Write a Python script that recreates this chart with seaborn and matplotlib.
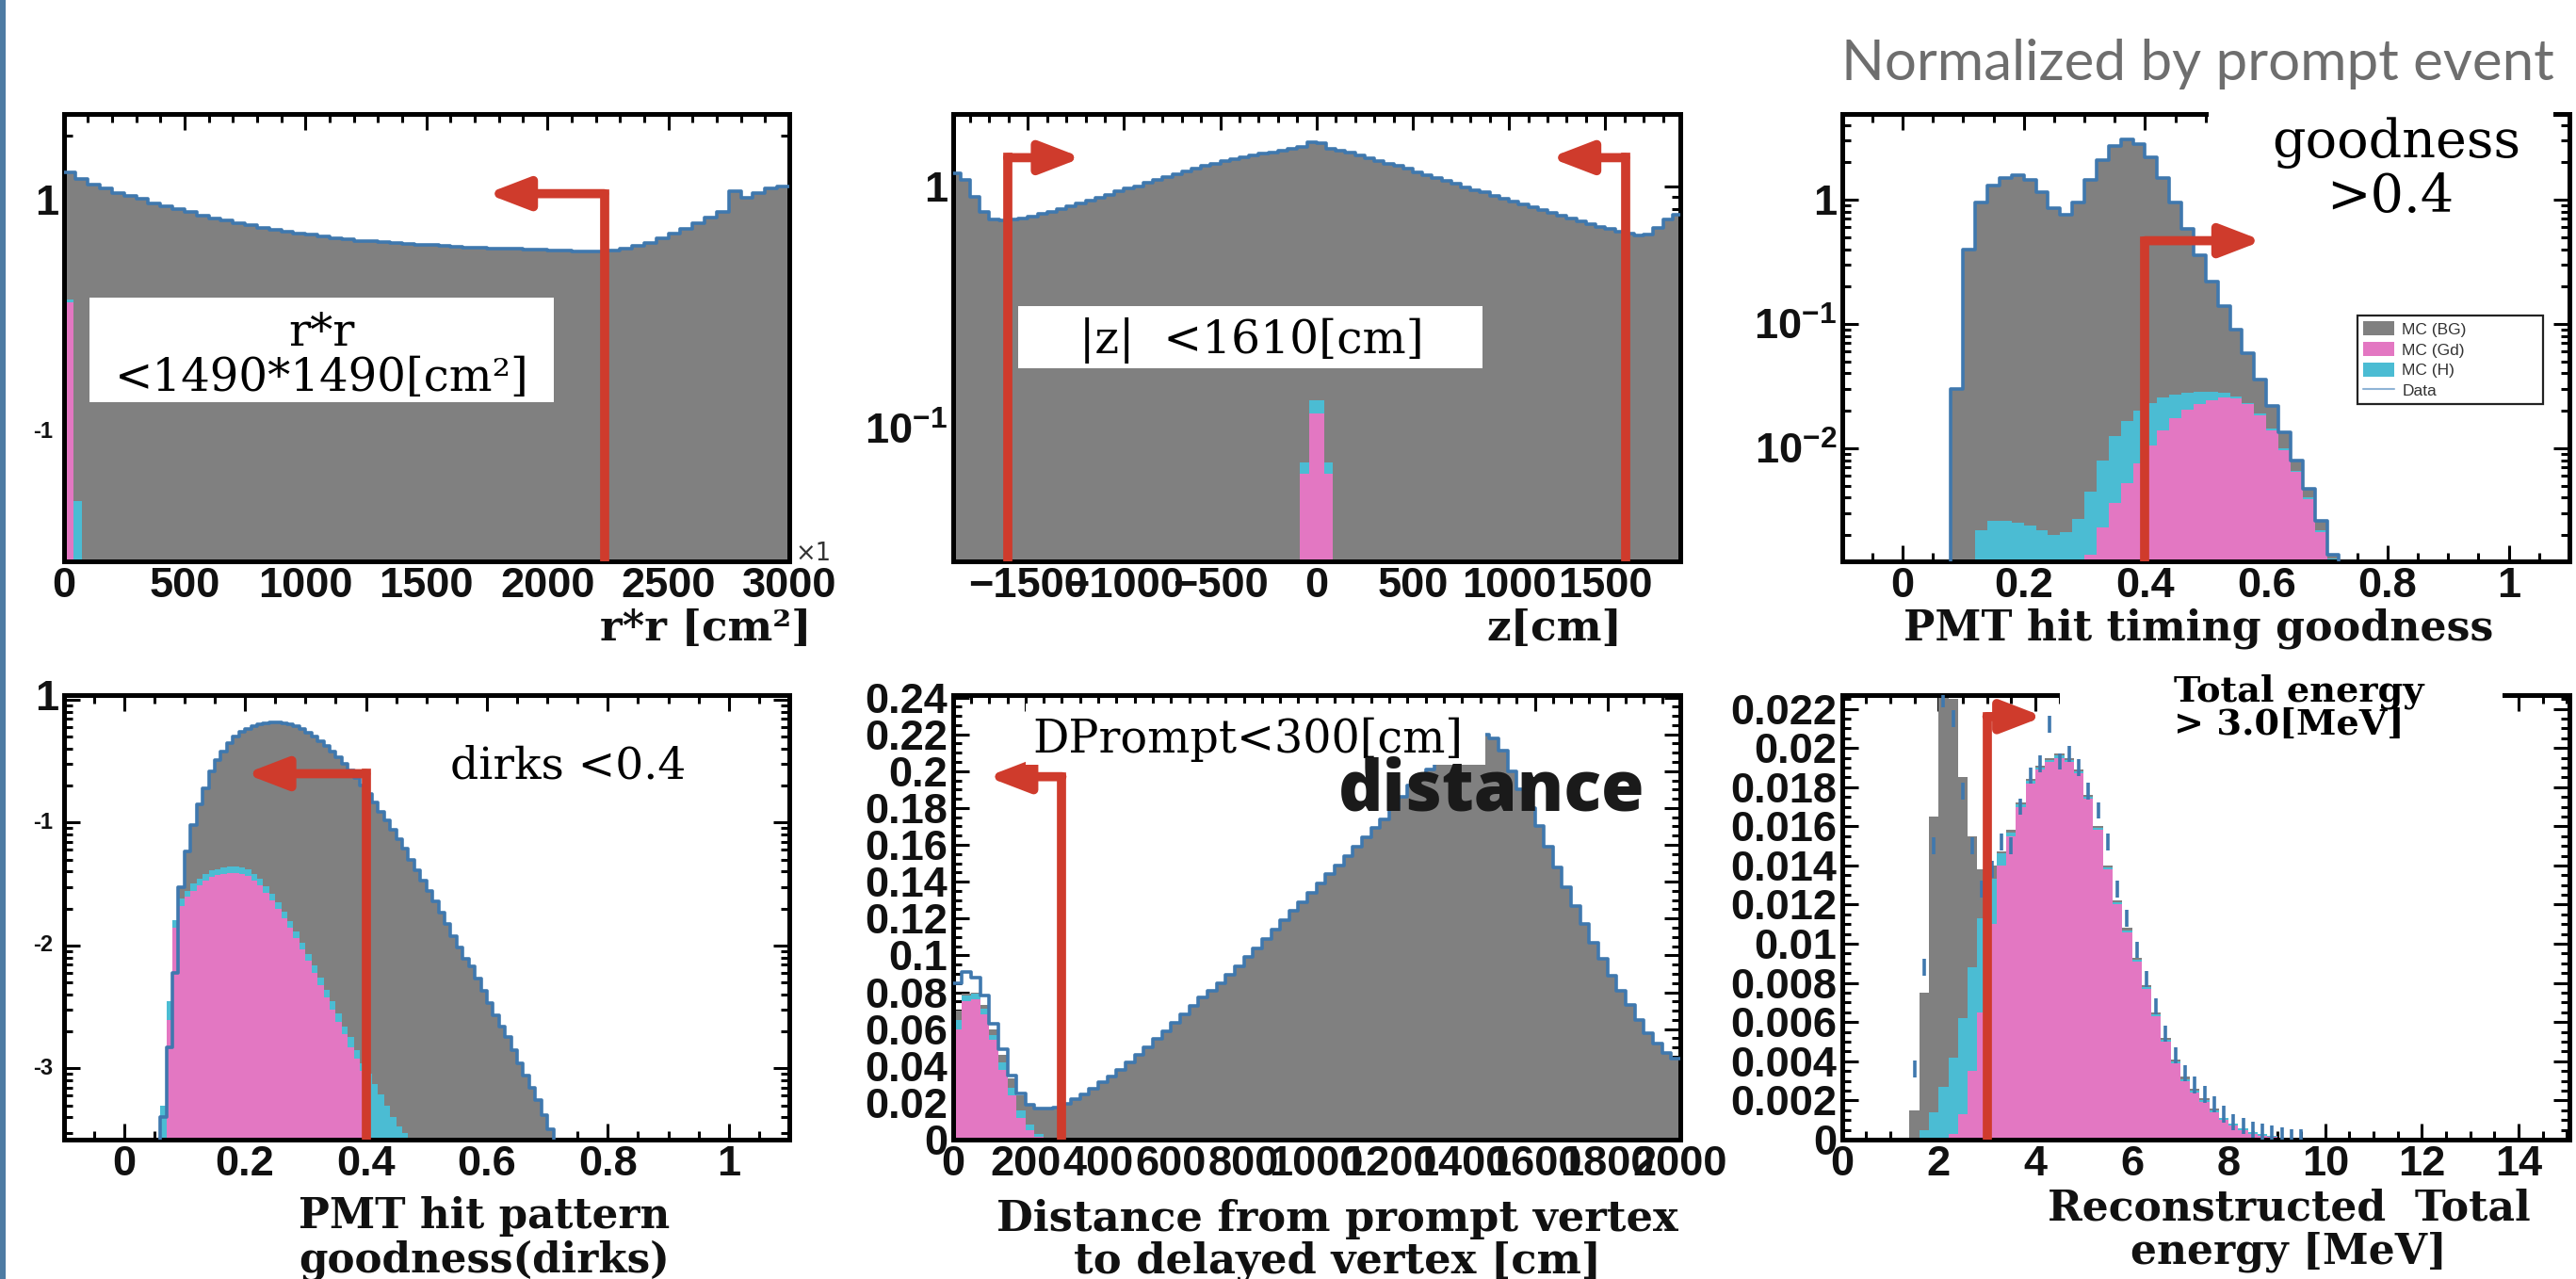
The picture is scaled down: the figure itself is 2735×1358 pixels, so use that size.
import numpy as np
import matplotlib
matplotlib.use("Agg")
import matplotlib.pyplot as plt
import seaborn as sns
from matplotlib.patches import Rectangle, Patch
from matplotlib.lines import Line2D
from matplotlib.ticker import MultipleLocator, LogLocator, NullFormatter, FuncFormatter
from matplotlib.transforms import blended_transform_factory

# ------------------------------------------------------------------ data
# Panel 1 : r*r  (x10^3 cm^2), bins of 50
rr_edges = list(range(0, 3001, 50))
rr_total = [1.38, 1.29, 1.22, 1.17, 1.12, 1.08, 1.05, 1.01, 0.98, 0.95,
            0.92, 0.89, 0.865, 0.845, 0.825, 0.805, 0.785, 0.77, 0.755, 0.745,
            0.735, 0.72, 0.71, 0.70, 0.69, 0.685, 0.68, 0.675, 0.67, 0.665,
            0.66, 0.655, 0.65, 0.645, 0.642, 0.64, 0.637, 0.635, 0.632, 0.63,
            0.627, 0.625, 0.622, 0.62, 0.622, 0.628, 0.64, 0.655, 0.675, 0.705,
            0.74, 0.78, 0.825, 0.87, 0.92, 1.14, 1.06, 1.12, 1.17, 1.19]
rr_sig_edges = [0, 40, 75]
rr_gdh = [0.38, 0.05]
rr_gd = [0.37, 0.0]

# Panel 2 : z, bins of 50
z_edges = list(range(-1900, 1901, 50))
z_total = [1.13, 1.06, 0.90, 0.78, 0.73, 0.72, 0.725, 0.735, 0.75, 0.765,
           0.785, 0.805, 0.825, 0.85, 0.87, 0.895, 0.92, 0.95, 0.975, 1.00,
           1.03, 1.06, 1.09, 1.12, 1.15, 1.18, 1.21, 1.24, 1.27, 1.29,
           1.32, 1.34, 1.36, 1.38, 1.40, 1.42, 1.45, 1.52,
           1.50, 1.43, 1.40, 1.37, 1.34, 1.30, 1.27, 1.24, 1.21, 1.18,
           1.14, 1.11, 1.08, 1.05, 1.02, 0.99, 0.965, 0.94, 0.91, 0.885,
           0.86, 0.84, 0.815, 0.795, 0.775, 0.755, 0.735, 0.715, 0.695, 0.68,
           0.665, 0.65, 0.635, 0.625, 0.63, 0.67, 0.73, 0.76]
z_sig_edges = [-85, -40, 0, 40, 85]
z_gdh = [0.072, 0.13, 0.13, 0.072]
z_gd = [0.065, 0.115, 0.115, 0.065]

# Panel 3 : PMT hit timing goodness
tg_edges = np.round(np.linspace(0.06, 0.74, 35), 2)
tg_total = [0, 0.03, 0.40, 0.95, 1.30, 1.50, 1.58, 1.45, 1.15, 0.85,
            0.76, 0.95, 1.45, 2.10, 2.70, 3.05, 2.80, 2.20, 1.50, 0.95,
            0.58, 0.36, 0.22, 0.14, 0.09, 0.058, 0.036, 0.022, 0.0135, 0.008,
            0.0047, 0.0026, 0.0014, 0]
tg_gdh = [0, 0, 0, 0.0022, 0.0026, 0.0026, 0.0025, 0.0024, 0.0022, 0.0020,
          0.0021, 0.0027, 0.0045, 0.0080, 0.0125, 0.0165, 0.020, 0.023, 0.0255, 0.027,
          0.028, 0.0285, 0.0285, 0.028, 0.026, 0.023, 0.019, 0.0145, 0.010, 0.0066,
          0.0040, 0.0022, 0.0013, 0]
tg_gd = [0, 0, 0, 0, 0, 0, 0, 0, 0, 0,
         0, 0, 0.0014, 0.0023, 0.0036, 0.0052, 0.0075, 0.0105, 0.014, 0.0175,
         0.0205, 0.0228, 0.0245, 0.0255, 0.025, 0.0225, 0.0185, 0.014, 0.0097, 0.0064,
         0.0039, 0.0021, 0.0012, 0]

# Panel 4 : PMT hit pattern goodness (dirks), bins of 0.01
dk_edges = np.round(np.linspace(0.04, 0.74, 71), 2)
dk_total = [0, 0, 0.0004, 0.0015, 0.006, 0.030, 0.058, 0.095, 0.14, 0.19,
            0.26, 0.32, 0.38, 0.44, 0.50, 0.545, 0.58, 0.61, 0.63, 0.645,
            0.655, 0.655, 0.645, 0.63, 0.605, 0.575, 0.54, 0.50, 0.46, 0.42,
            0.38, 0.34, 0.30, 0.265, 0.23, 0.20, 0.17, 0.145, 0.123, 0.104,
            0.087, 0.073, 0.061, 0.050, 0.041, 0.034, 0.028, 0.023, 0.0185, 0.015,
            0.012, 0.0097, 0.0078, 0.0068, 0.0054, 0.0043, 0.0034, 0.0027, 0.0022, 0.0018,
            0.0014, 0.0011, 0.00088, 0.0007, 0.00055, 0.00042, 0.00032, 0.00025, 0, 0]
dk_gdh = [0, 0, 0.0005, 0.0035, 0.016, 0.024, 0.028, 0.032, 0.035, 0.038,
          0.041, 0.042, 0.043, 0.044, 0.044, 0.043, 0.0415, 0.038, 0.035, 0.0305,
          0.0265, 0.0226, 0.019, 0.0159, 0.013, 0.0106, 0.0086, 0.0069, 0.0055, 0.0044,
          0.0035, 0.0028, 0.0022, 0.0018, 0.0014, 0.0011, 0.0009, 0.00075, 0.00062, 0.0005,
          0.0004, 0.00034, 0.0003] + [0] * 27
dk_gd = [0, 0, 0, 0.0025, 0.014, 0.021, 0.025, 0.028, 0.031, 0.034,
         0.036, 0.0375, 0.0385, 0.039, 0.039, 0.0385, 0.037, 0.034, 0.031, 0.027,
         0.0235, 0.020, 0.0168, 0.014, 0.0115, 0.0093, 0.0075, 0.006, 0.0048, 0.0038,
         0.003, 0.0024, 0.0019, 0.0015, 0.0012, 0.00095] + [0] * 34

# Panel 5 : distance prompt-delayed, bins of 25
ds_edges = list(range(0, 2001, 25))
ds_total = [0.070, 0.079, 0.080, 0.073, 0.060, 0.046, 0.033, 0.024, 0.019, 0.017,
            0.0168, 0.0175, 0.0195, 0.0218, 0.0245, 0.0275, 0.031, 0.034, 0.038, 0.042,
            0.046, 0.050, 0.0545, 0.059, 0.0635, 0.068, 0.0725, 0.077, 0.081, 0.085,
            0.0895, 0.094, 0.099, 0.104, 0.109, 0.114, 0.119, 0.124, 0.129, 0.134,
            0.139, 0.144, 0.149, 0.154, 0.159, 0.164, 0.169, 0.174, 0.180, 0.186,
            0.192, 0.197, 0.201, 0.205, 0.208, 0.211, 0.214, 0.217, 0.220, 0.218,
            0.211, 0.200, 0.190, 0.180, 0.170, 0.159, 0.148, 0.137, 0.127, 0.117,
            0.107, 0.098, 0.089, 0.081, 0.073, 0.065, 0.058, 0.052, 0.047, 0.044]
ds_data = [0.085, 0.091, 0.088, 0.078, 0.063, 0.049, 0.035, 0.025, 0.019, 0.017,
           0.0168, 0.0175, 0.0195, 0.0218, 0.0245, 0.0275, 0.031, 0.034, 0.038, 0.042,
           0.046, 0.050, 0.0545, 0.059, 0.0635, 0.068, 0.0725, 0.077, 0.081, 0.085,
           0.0895, 0.094, 0.099, 0.104, 0.109, 0.114, 0.119, 0.124, 0.129, 0.134,
           0.139, 0.144, 0.149, 0.154, 0.159, 0.164, 0.169, 0.174, 0.180, 0.186,
           0.192, 0.197, 0.201, 0.205, 0.208, 0.211, 0.214, 0.217, 0.220, 0.218,
           0.211, 0.200, 0.190, 0.180, 0.170, 0.159, 0.148, 0.137, 0.127, 0.117,
           0.107, 0.098, 0.089, 0.081, 0.073, 0.065, 0.058, 0.052, 0.047, 0.044]
ds_gdh = [0.065, 0.078, 0.079, 0.071, 0.057, 0.042, 0.028, 0.016, 0.008, 0.003, 0.001] + [0] * 69
ds_gd = [0.060, 0.075, 0.076, 0.068, 0.054, 0.038, 0.024, 0.012, 0.005, 0.0015] + [0] * 70

# Panel 6 : reconstructed total energy
en_edges = np.round(np.linspace(1.4, 9.6, 42), 1)
en_total = [0.0015, 0.0075, 0.0165, 0.0232, 0.0225, 0.0185, 0.0155, 0.0138, 0.0140, 0.0147,
            0.0158, 0.0172, 0.0184, 0.0191, 0.0195, 0.0197, 0.0195, 0.0189, 0.0176, 0.0160,
            0.0140, 0.0122, 0.0108, 0.0093, 0.0079, 0.0065, 0.0052, 0.0041, 0.0032, 0.0026,
            0.0021, 0.0016, 0.0011, 0.0008, 0.0006, 0.0004, 0.0003, 0.0002, 0.0001, 0.00005,
            0.00003]
en_gdh = [0, 0.0005, 0.0014, 0.0027, 0.0042, 0.0062, 0.0088, 0.0113, 0.0133, 0.0146,
          0.0157, 0.0171, 0.0183, 0.0190, 0.0194, 0.0196, 0.0194, 0.0188, 0.0175, 0.0159,
          0.0139, 0.0121, 0.0107, 0.0092, 0.0078, 0.0064, 0.0051, 0.0040, 0.0031, 0.0025,
          0.0020, 0.0015, 0.0011, 0.0008, 0.0006, 0.0004, 0.0003, 0.0002, 0.0001, 0.00005,
          0.00003]
en_gd = [0, 0, 0, 0, 0.0003, 0.0013, 0.0035, 0.0065, 0.0110, 0.0140,
         0.0155, 0.0170, 0.0182, 0.0189, 0.0193, 0.0195, 0.0193, 0.0187, 0.0174, 0.0158,
         0.0138, 0.0120, 0.0106, 0.0091, 0.0077, 0.0063, 0.0050, 0.0039, 0.0030, 0.0024,
         0.0019, 0.0014, 0.0010, 0.0007, 0.0005, 0.0003, 0.0002, 0.00015, 0.0001, 0.00004,
         0.00002]
en_data = [0.0036, 0.0088, 0.0150, 0.0225, 0.0215, 0.0178, 0.0150, 0.0128, 0.0138, 0.0152,
           0.0150, 0.0170, 0.0186, 0.0192, 0.0212, 0.0193, 0.0197, 0.0190, 0.0178, 0.0168,
           0.0152, 0.0128, 0.0113, 0.0097, 0.0082, 0.0068, 0.0054, 0.0043, 0.0034, 0.0028,
           0.0023, 0.0018, 0.0013, 0.0009, 0.0007, 0.0005, 0.0004, 0.0003, 0.0002, 0.0001,
           0.0001]

legend_labels = ["MC (BG)", "MC (Gd)", "MC (H)", "Data"]

# ------------------------------------------------------------------ style
sns.set_theme(style="white")
plt.rcParams.update({
    "font.family": ["Liberation Sans", "DejaVu Sans"],
    "font.weight": "bold",
    "mathtext.fontset": "custom",
    "mathtext.rm": "Liberation Sans",
    "mathtext.bf": "Liberation Sans:bold",
    "mathtext.it": "Liberation Sans:italic",
})

GREY = "#808080"
PINK = "#e377c2"
CYAN = "#4bbcd3"
BLUE = "#3f78ae"
RED = "#cf3b2c"
SERIF = ["DejaVu Serif"]
TICKSIZE = 32.5

W, H = 2735, 1358
fig = plt.figure(figsize=(W / 100, H / 100), dpi=100)
fig.patch.set_facecolor("white")
R = fig.canvas.get_renderer()

AX_PX = {
    "rr": (67.5, 838, 121, 596),
    "z": (1011.6, 1784, 121, 596),
    "tg": (1955.6, 2728, 121, 596),
    "dk": (67.5, 838, 738, 1210),
    "ds": (1011.6, 1784, 738, 1210),
    "en": (1955.6, 2728, 738, 1210),
}


def px_rect(l, r, t, b):
    return [l / W, 1 - b / H, (r - l) / W, (b - t) / H]


def mids(edges):
    e = np.asarray(edges, float)
    return (e[:-1] + e[1:]) / 2


def layer(ax, edges, vals, color, z):
    sns.histplot(x=mids(edges), weights=vals, bins=list(np.asarray(edges, float)),
                 element="step", fill=True, color=color, alpha=1.0, linewidth=0,
                 ax=ax, zorder=z)


def outline(ax, edges, vals, z=4):
    sns.histplot(x=mids(edges), weights=vals, bins=list(np.asarray(edges, float)),
                 element="step", fill=False, color=BLUE, linewidth=2.6, ax=ax, zorder=z)


def fmt_num(v, pos):
    return f"{v:g}".replace("-", "\u2212")


def fmt_log(v, pos):
    e = int(round(np.log10(v)))
    return "1" if e == 0 else r"$\mathbf{10^{%d}}$" % e


def style(ax, xlim, xmaj, xmin, ylim, ylog, ymaj=None, ymin=None, loglabels=True):
    ax.set_xlim(*xlim)
    if ylog:
        ax.set_yscale("log")
    ax.set_ylim(*ylim)
    ax.xaxis.set_major_locator(MultipleLocator(xmaj))
    ax.xaxis.set_minor_locator(MultipleLocator(xmin))
    ax.xaxis.set_major_formatter(FuncFormatter(fmt_num))
    if ylog:
        ax.yaxis.set_major_locator(LogLocator(base=10, numticks=20))
        ax.yaxis.set_minor_locator(LogLocator(base=10, subs=np.arange(2, 10), numticks=100))
        ax.yaxis.set_minor_formatter(NullFormatter())
        ax.yaxis.set_major_formatter(FuncFormatter(fmt_log) if loglabels else NullFormatter())
    else:
        ax.yaxis.set_major_locator(MultipleLocator(ymaj))
        ax.yaxis.set_minor_locator(MultipleLocator(ymin))
        ax.yaxis.set_major_formatter(FuncFormatter(fmt_num))
    ax.tick_params(which="both", direction="in", top=True, right=True, bottom=True,
                   left=True, color="black", width=2.2)
    ax.tick_params(which="major", length=12, pad=4, labelsize=TICKSIZE, labelcolor="#111111")
    ax.tick_params(which="minor", length=6.5)
    for s in ax.spines.values():
        s.set_visible(True)
        s.set_linewidth(3.6)
        s.set_color("black")
    ax.set_xlabel("")
    ax.set_ylabel("")
    ax.grid(False)
    ax.set_facecolor("white")


def cut_arrow(ax, x, ytop, xtip, ybot):
    ax.plot([x, x], [ybot, ytop], color=RED, lw=7, solid_capstyle="projecting", zorder=5)
    ax.annotate("", xy=(xtip, ytop), xytext=(x, ytop),
                arrowprops=dict(arrowstyle="-|>,head_length=1.3,head_width=0.5",
                                mutation_scale=20, lw=7, color=RED,
                                shrinkA=0, shrinkB=0),
                zorder=5)


def fit(t, width):
    bb = t.get_window_extent(renderer=R)
    t.set_fontsize(t.get_fontsize() * width / bb.width)
    return t


def spacing(t, sp_px):
    fp = t.get_fontproperties()
    _, h, d = R.get_text_width_height_descent("lp", fp, ismath=False)
    t.set_linespacing((sp_px - d) / (h - d))


def ftext(px, py, s, width, **kw):
    ha = kw.pop("ha", "center")
    va = kw.pop("va", "center")
    t = fig.text(px / W, 1 - py / H, s, ha=ha, va=va, **kw)
    fit(t, width)
    return t


def exp_labels(ax, entries):
    tr = blended_transform_factory(ax.transAxes, ax.transData)
    for v, s, size, xo in entries:
        ax.text(xo, v, s, transform=tr, ha="right", va="center", fontsize=size,
                fontweight="bold", color="#111111", clip_on=False)


axs = {k: fig.add_axes(px_rect(*v)) for k, v in AX_PX.items()}

# ---------------- Panel 1
ax = axs["rr"]
layer(ax, rr_edges, rr_total, GREY, 1)
layer(ax, rr_sig_edges, rr_gdh, CYAN, 1.1)
layer(ax, rr_sig_edges, rr_gd, PINK, 1.2)
outline(ax, rr_edges, rr_total)
style(ax, (0, 3000), 500, 100, (0.0272, 2.48), True, loglabels=False)
exp_labels(ax, [(1, "1", TICKSIZE, -0.007), (0.1, "-1", 17, -0.015)])
cut_arrow(ax, 2235, 1.11, 1749, 0.001)
ax.add_patch(Rectangle((0.036, 0.356), 0.64, 0.233, transform=ax.transAxes,
                       facecolor="white", edgecolor="none", zorder=6))
t2 = ax.text(0.356, 0.41, "<1490*1490[cm\u00b2]", transform=ax.transAxes, ha="center",
             va="center", family=SERIF, fontweight="normal", color="black", zorder=7)
fit(t2, 439)
ax.text(0.356, 0.51, "r*r", transform=ax.transAxes, ha="center", va="center",
        family=SERIF, fontweight="normal", color="black", zorder=7,
        fontsize=t2.get_fontsize())

# ---------------- Panel 2
ax = axs["z"]
layer(ax, z_edges, z_total, GREY, 1)
layer(ax, z_sig_edges, z_gdh, CYAN, 1.1)
layer(ax, z_sig_edges, z_gd, PINK, 1.2)
outline(ax, z_edges, z_total)
style(ax, (-1890, 1890), 500, 100, (0.0282, 1.985), True)
cut_arrow(ax, -1605, 1.31, -1218, 0.001)
cut_arrow(ax, 1605, 1.31, 1213, 0.001)
ax.add_patch(Rectangle((0.0895, 0.432), 0.639, 0.1385, transform=ax.transAxes,
                       facecolor="white", edgecolor="none", zorder=6))
t = ax.text(0.411, 0.493, "|z|  <1610[cm]", transform=ax.transAxes, ha="center",
            va="center", family=SERIF, fontweight="normal", color="black", zorder=7)
fit(t, 365)

# ---------------- Panel 3
ax = axs["tg"]
layer(ax, tg_edges, tg_total, GREY, 1)
layer(ax, tg_edges, tg_gdh, CYAN, 1.1)
layer(ax, tg_edges, tg_gd, PINK, 1.2)
outline(ax, tg_edges, tg_total)
style(ax, (-0.1, 1.1), 0.2, 0.05, (0.00123, 4.9), True)
cut_arrow(ax, 0.4, 0.468, 0.594, 1e-5)
ax.add_patch(Rectangle((0.504, 0.76), 0.474, 0.27, transform=ax.transAxes,
                       facecolor="white", edgecolor="none", zorder=3, clip_on=False))
t = ax.text(0.762, 0.9356, "goodness", transform=ax.transAxes, ha="center", va="center",
            family=SERIF, fontweight="normal", color="black", zorder=7)
fit(t, 264)
ax.text(0.7535, 0.8126, ">0.4", transform=ax.transAxes, ha="center", va="center",
        family=SERIF, fontweight="normal", color="black", zorder=7,
        fontsize=t.get_fontsize())
handles = [Patch(facecolor=GREY, edgecolor="none", label=legend_labels[0]),
           Patch(facecolor=PINK, edgecolor="none", label=legend_labels[1]),
           Patch(facecolor=CYAN, edgecolor="none", label=legend_labels[2]),
           Line2D([], [], color="#8fb4d6", lw=1.5, label=legend_labels[3])]
leg = ax.legend(handles=handles, loc="upper left", bbox_to_anchor=(0.697, 0.361, 0.278, 0.206),
                mode="expand", frameon=True, fancybox=False, framealpha=1,
                edgecolor="#222222", borderpad=0.35, labelspacing=0.3, handlelength=1.9,
                handleheight=0.95, handletextpad=0.5,
                prop=dict(family="Liberation Sans", size=12.5, weight="normal"))
leg.get_frame().set_linewidth(1.6)
for tx in leg.get_texts():
    tx.set_color("#333333")
leg.set_zorder(8)

# ---------------- Panel 4
ax = axs["dk"]
layer(ax, dk_edges, dk_total, GREY, 1)
layer(ax, dk_edges, dk_gdh, CYAN, 1.1)
layer(ax, dk_edges, dk_gd, PINK, 1.2)
outline(ax, dk_edges, dk_total)
style(ax, (-0.1, 1.1), 0.2, 0.05, (2.64e-4, 1.09), True, loglabels=False)
exp_labels(ax, [(1, "1", TICKSIZE, -0.007), (0.1, "-1", 17, -0.015),
                (0.01, "-2", 17, -0.015), (0.001, "-3", 17, -0.015)])
cut_arrow(ax, 0.4, 0.25, 0.2, 1e-6)
t = ax.text(0.695, 0.839, "dirks <0.4", transform=ax.transAxes, ha="center", va="center",
            family=SERIF, fontweight="normal", color="black", zorder=7)
fit(t, 249.5)

# ---------------- Panel 5
ax = axs["ds"]
layer(ax, ds_edges, ds_total, GREY, 1)
layer(ax, ds_edges, ds_gdh, CYAN, 1.1)
layer(ax, ds_edges, ds_gd, PINK, 1.2)
outline(ax, ds_edges, ds_data)
style(ax, (0, 2000), 200, 50, (0, 0.2413), False, 0.02, 0.005)
cut_arrow(ax, 300, 0.197, 94, -0.01)
ax.add_patch(Rectangle((200, 0.2035), 1263, 0.033, facecolor="white", edgecolor="none",
                       zorder=6))
t = ax.text(0.4058, 0.90, "DPrompt<300[cm]", transform=ax.transAxes, ha="center",
            va="center", family=SERIF, fontweight="normal", color="black", zorder=7)
fit(t, 456.6)
t = ax.text(0.741, 0.782, "distance", transform=ax.transAxes, ha="center", va="center",
            family=["Open Sans", "DejaVu Sans"], fontweight="heavy", color="#1a1a1a",
            zorder=7)
fit(t, 326)

# ---------------- Panel 6
ax = axs["en"]
layer(ax, en_edges, en_total, GREY, 1)
layer(ax, en_edges, en_gdh, CYAN, 1.1)
layer(ax, en_edges, en_gd, PINK, 1.2)
ax.errorbar(mids(en_edges), en_data, yerr=0.00042, fmt="none", ecolor=BLUE,
            elinewidth=2.6, capsize=0, zorder=4)
style(ax, (0, 15.05), 2, 0.5, (0, 0.0227), False, 0.002, 0.0005)
cut_arrow(ax, 3.0, 0.0216, 4.17, -0.001)
ax.add_patch(Rectangle((0.2997, 0.955), 0.608, 0.08, transform=ax.transAxes,
                       facecolor="white", edgecolor="none", zorder=3, clip_on=False))
t = ax.text(0.456, 1.0074, "Total energy", transform=ax.transAxes, ha="left", va="center",
            family=SERIF, fontweight="bold", color="black", zorder=7)
fit(t, 264)
ax.text(0.456, 0.934, "> 3.0[MeV]", transform=ax.transAxes, ha="left", va="center",
        family=SERIF, fontweight="bold", color="black", zorder=7, fontsize=t.get_fontsize())

# ---------------- axis titles and captions
ftext(749.5, 667, "r*r [cm\u00b2]", 225, family=SERIF, fontweight="bold", color="#111111")
ftext(1650, 667, "z[cm]", 144, family=SERIF, fontweight="bold", color="#111111")
ftext(2334, 667, "PMT hit timing goodness", 624, family=SERIF, fontweight="bold",
      color="#111111")
t = ftext(514, 1315, "PMT hit pattern\ngoodness(dirks)", 393, family=SERIF,
          fontweight="bold", color="#111111")
spacing(t, 46)
t = ftext(1420, 1317, "Distance from prompt vertex\nto delayed vertex [cm]", 722,
          family=SERIF, fontweight="bold", color="#111111")
spacing(t, 43.6)
t = ftext(2430, 1306.5, "Reconstructed  Total\nenergy [MeV]", 511, family=SERIF,
          fontweight="bold", color="#111111")
spacing(t, 46)
ftext(2333, 67.6, "Normalized by prompt event", 755, family=["Lato", "DejaVu Sans"],
      fontweight="normal", color="#6e6e6e")
ftext(864, 588, "\u00d71", 38, family=["DejaVu Sans"], fontweight="normal", color="#333333")

# slide border on the left edge
fig.add_artist(Rectangle((0, 0), 6 / W, 1, transform=fig.transFigure,
                         facecolor="#4d7ba3", edgecolor="none", zorder=10))

fig.savefig("out.png", dpi=100, facecolor="white")
